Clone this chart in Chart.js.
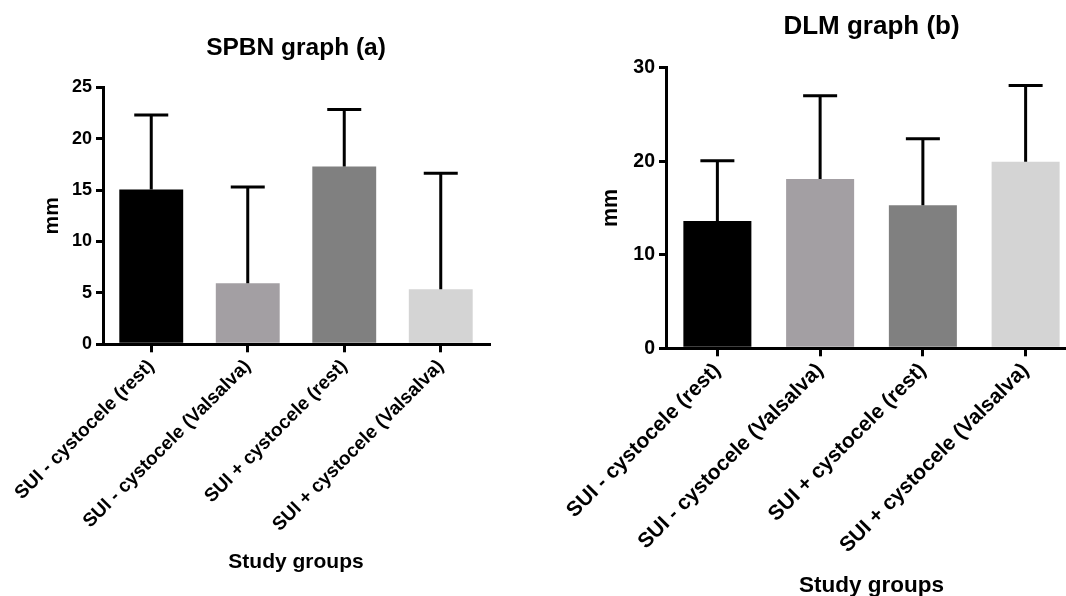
<!DOCTYPE html>
<html>
<head>
<meta charset="utf-8">
<script src="https://cdn.jsdelivr.net/npm/chart.js@4.4.0/dist/chart.umd.min.js"></script>
<style>
html,body{margin:0;padding:0;overflow:hidden;background:#fff;width:1066px;height:596px;}
#c1{position:absolute;left:0;top:0;}
#c2{position:absolute;left:560px;top:0;}
</style>
</head>
<body>
<canvas id="c1" width="530" height="596"></canvas>
<canvas id="c2" width="520" height="600"></canvas>
<script>
const categories = ["SUI - cystocele (rest)", "SUI - cystocele (Valsalva)", "SUI + cystocele (rest)", "SUI + cystocele (Valsalva)"];
const barColors = ["#000000", "#a39fa3", "#808080", "#d4d4d4"];

const spbnMeans = [15.05, 5.95, 17.3, 5.35];
const spbnSD = [7.25, 9.35, 5.55, 11.3];
const spbnTicks = [0, 5, 10, 15, 20, 25];

const dlmMeans = [13.6, 18.1, 15.3, 19.95];
const dlmSD = [6.45, 8.9, 7.1, 8.15];
const dlmTicks = [0, 10, 20, 30];

const FAMILY = "'Liberation Sans', Arial, Helvetica, sans-serif";

const errorBars = {
  id: 'errorBars',
  afterDatasetsDraw(chart, args, opts) {
    const ctx = chart.ctx;
    const meta = chart.getDatasetMeta(0);
    const y = chart.scales.y;
    const vals = chart.data.datasets[0].data;
    ctx.save();
    ctx.strokeStyle = '#000';
    ctx.lineWidth = 3;
    meta.data.forEach((bar, i) => {
      const top = y.getPixelForValue(vals[i] + opts.sd[i]);
      ctx.beginPath();
      ctx.moveTo(bar.x, bar.y);
      ctx.lineTo(bar.x, top);
      ctx.moveTo(bar.x - 17, top);
      ctx.lineTo(bar.x + 17, top);
      ctx.stroke();
    });
    ctx.restore();
  }
};

function makeChart(id, means, sds, ticks, title, o) {
  return new Chart(document.getElementById(id), {
    type: 'bar',
    data: {
      labels: categories,
      datasets: [{
        data: means,
        backgroundColor: barColors,
        borderWidth: 0,
        barPercentage: 0.662,
        categoryPercentage: 1
      }]
    },
    plugins: [errorBars],
    options: {
      responsive: false,
      animation: false,
      layout: { padding: { left: 0, top: 0, right: o.padRight, bottom: 0 } },
      plugins: {
        legend: { display: false },
        tooltip: { enabled: false },
        errorBars: { sd: sds },
        title: {
          display: true,
          text: title,
          fullSize: false,
          color: '#000',
          font: { family: FAMILY, size: o.titleSize, weight: 'bold', lineHeight: 1.2 },
          padding: { top: o.titleTop, bottom: o.titleBottom }
        }
      },
      scales: {
        x: {
          offset: true,
          afterFit: s => { s.height = o.xHeight; s.paddingLeft = 0; s.paddingRight = 0; },
          border: { display: true, color: '#000', width: 3 },
          grid: { display: true, offset: false, drawOnChartArea: false, drawTicks: true, tickLength: 8, color: '#000', lineWidth: 3 },
          ticks: { color: '#000', font: { family: FAMILY, size: o.xTickSize, weight: 'bold' }, minRotation: 45, maxRotation: 45, autoSkip: false, padding: o.xTickPad },
          title: { display: true, text: 'Study groups', color: '#000', font: { family: FAMILY, size: o.xTitleSize, weight: 'bold', lineHeight: 1.2 }, padding: { top: 0, bottom: o.xTitlePad } }
        },
        y: {
          min: 0,
          max: ticks[ticks.length - 1],
          afterBuildTicks: s => { s.ticks = ticks.map(v => ({ value: v })); },
          afterFit: s => { s.width = o.yWidth; s.paddingTop = 0; s.paddingBottom = 0; },
          border: { display: true, color: '#000', width: 3 },
          grid: { display: true, drawOnChartArea: false, drawTicks: true, tickLength: 7, color: '#000', lineWidth: 3 },
          ticks: { color: '#000', font: { family: FAMILY, size: o.yTickSize, weight: 'bold' }, padding: 4 },
          title: { display: true, text: 'mm', color: '#000', font: { family: FAMILY, size: o.yTitleSize, weight: 'bold', lineHeight: 1.2 }, padding: { top: o.yTitlePad, bottom: 0 } }
        }
      }
    }
  });
}

makeChart('c1', spbnMeans, spbnSD, spbnTicks, 'SPBN graph (a)', {
  padRight: 41, titleSize: 24.5, titleTop: 33.3, titleBottom: 24.6,
  xHeight: 251.7, xTickSize: 19, xTickPad: 3, xTitleSize: 21, xTitlePad: 21,
  yWidth: 103, yTickSize: 18, yTitleSize: 21, yTitlePad: 40
});
makeChart('c2', dlmMeans, dlmSD, dlmTicks, 'DLM graph (b)', {
  padRight: 3, titleSize: 26, titleTop: 11.1, titleBottom: 25.4,
  xHeight: 251.7, xTickSize: 21, xTickPad: 2, xTitleSize: 22.5, xTitlePad: 0.7,
  yWidth: 106, yTickSize: 19.5, yTitleSize: 21.5, yTitlePad: 38
});
</script>
</body>
</html>
